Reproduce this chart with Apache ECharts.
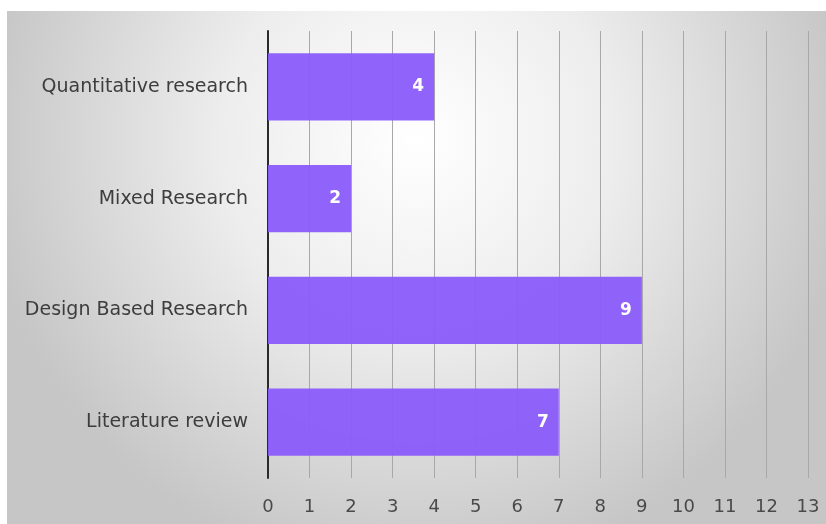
<!DOCTYPE html>
<html>
<head>
<meta charset="utf-8">
<script src="https://cdn.jsdelivr.net/npm/echarts@6/dist/echarts.min.js"></script>
<style>
  html, body { margin: 0; padding: 0; background: #ffffff; }
  #chart { width: 826px; height: 524px; }
</style>
</head>
<body>
<div id="chart"></div>
<script>
// Research approaches and number of studies (bottom to top on the category axis)
const categories = ['Literature review', 'Design Based Research', 'Mixed Research', 'Quantitative research'];
const counts = [7, 9, 2, 4];
const valueTicks = [0, 1, 2, 3, 4, 5, 6, 7, 8, 9, 10, 11, 12, 13];

const labelFont = '"DejaVu Sans", "Noto Sans", sans-serif';

const chart = echarts.init(document.getElementById('chart'));

chart.setOption({
  animation: false,
  backgroundColor: '#ffffff',
  graphic: [{
    type: 'rect',
    z: -10,
    silent: true,
    shape: { x: 7, y: 11, width: 819, height: 513 },
    style: {
      fill: new echarts.graphic.RadialGradient(0.5, 0.25, 0.85, [
        { offset: 0, color: '#ffffff' },
        { offset: 0.45, color: '#ededed' },
        { offset: 1, color: '#c6c6c6' }
      ])
    }
  }],
  grid: { left: 268, right: 18, top: 31, bottom: 46, containLabel: false },
  xAxis: {
    type: 'value',
    min: valueTicks[0],
    max: valueTicks[valueTicks.length - 1],
    interval: 1,
    axisLine: { show: false },
    axisTick: { show: false },
    splitLine: { show: true, lineStyle: { color: '#a8a8a8', width: 1 } },
    axisLabel: {
      color: '#4a4a4a',
      fontSize: 18,
      fontFamily: labelFont,
      margin: 20
    }
  },
  yAxis: {
    type: 'category',
    data: categories,
    axisLine: { show: true, lineStyle: { color: '#2a2a2a', width: 2 } },
    axisTick: { show: false },
    axisLabel: {
      color: '#3d3d3d',
      fontSize: 19,
      fontFamily: labelFont,
      margin: 20
    }
  },
  series: [{
    type: 'bar',
    data: counts,
    barWidth: '60%',
    itemStyle: { color: 'rgba(138, 92, 250, 0.95)' },
    label: {
      show: true,
      position: 'insideRight',
      distance: 10,
      color: '#ffffff',
      fontWeight: 'bold',
      fontSize: 17,
      fontFamily: labelFont
    }
  }]
});
</script>
</body>
</html>
